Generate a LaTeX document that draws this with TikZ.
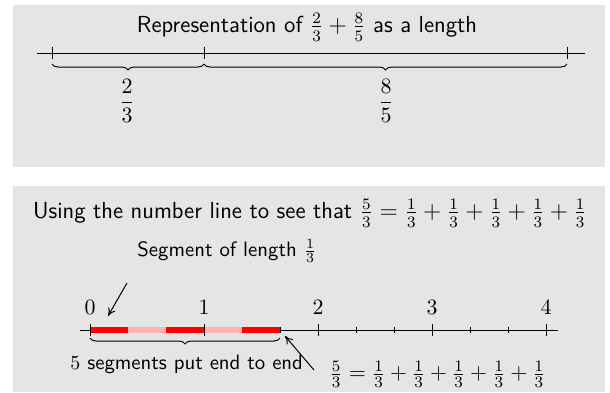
\documentclass[tikz,border=0pt]{standalone}
\usetikzlibrary{decorations.pathreplacing,arrows.meta}
\begin{document}
\begin{tikzpicture}[x=0.5pt,y=-0.5pt,font=\fontsize{11.3}{13.5}\selectfont\sffamily,
  panel/.style={fill=gray!20,draw=none},
  titletext/.style={font=\fontsize{11.6}{14}\selectfont\sffamily},
  labeltext/.style={font=\fontsize{10.4}{12.5}\selectfont\sffamily},
  eqtext/.style={font=\fontsize{11.1}{13}\selectfont},
  axisline/.style={line width=0.5pt},
  bigtick/.style={line width=0.5pt},
  smalltick/.style={line width=0.5pt},
  bracestyle/.style={decorate,decoration={brace,mirror,amplitude=3pt},line width=0.5pt},
  redseg/.style={red,line width=2.6pt},
  pinkseg/.style={red!30,line width=2.6pt},
  pointer/.style={-{To[length=4pt,width=4pt]},line width=0.5pt}]
\useasboundingbox (0,0) rectangle (610,392);
\fill[panel] (13,5) rectangle (605,167);
\fill[panel] (13,186) rectangle (605,392);

% ---------- top panel ----------
\node[titletext] (t1) at (307,27) {Representation of $\frac{2}{3}+\frac{8}{5}$ as a length};
\coordinate (L1) at (37,53);
\coordinate (R1) at (585,53);
\coordinate (a0) at (52,53);
\coordinate (a1) at (204,53);
\coordinate (a2) at (567,53);
\draw[axisline] (L1) -- (R1);
\foreach \p in {a0,a1,a2} \draw[bigtick] (\p) ++(0,-6) -- ++(0,12);
\coordinate (b0) at (52,64);
\coordinate (b1) at (204,64);
\coordinate (b2) at (567,64);
\draw[bracestyle] (b0) -- (b1);
\draw[bracestyle] (b1) -- (b2);
\node (f1) at (127,101) {$\displaystyle\frac{2}{3}$};
\node (f2) at (386,101) {$\displaystyle\frac{8}{5}$};

% ---------- bottom panel ----------
\node[titletext] (t2) at (310,213) {Using the number line to see that $\frac{5}{3}=\frac{1}{3}+\frac{1}{3}+\frac{1}{3}+\frac{1}{3}+\frac{1}{3}$};
\node[labeltext,anchor=west,inner sep=0pt] (seg) at (137,251) {Segment of length $\frac{1}{3}$};
\coordinate (L2) at (80,330);
\coordinate (R2) at (558,330);
\draw[axisline] (L2) -- (R2);
\foreach \k in {0,...,12} {
  \coordinate (m\k) at ({90+38*\k},330);
}
\foreach \k in {1,2,4,5,7,8,10,11} \draw[smalltick] (m\k) ++(0,-3) -- ++(0,6);
\draw[redseg] (m0) -- (m1);
\draw[pinkseg] (m1) -- (m2);
\draw[redseg] (m2) -- (m3);
\draw[pinkseg] (m3) -- (m4);
\draw[redseg] (m4) -- (m5);
\foreach \k/\n in {0/0,3/1,6/2,9/3,12/4} {
  \draw[bigtick] (m\k) ++(0,-6) -- ++(0,12);
  \node (n\n) at ([yshift=11.5pt]m\k) {$\n$};
}
\coordinate (c0) at (90,338);
\coordinate (c1) at (280,338);
\draw[bracestyle] (c0) -- (c1);
\node[labeltext,anchor=west,inner sep=0pt] (five) at (70,364) {$5$ segments put end to end};
\node[eqtext,anchor=west,inner sep=0pt] (eq) at (329,374) {$\frac{5}{3}=\frac{1}{3}+\frac{1}{3}+\frac{1}{3}+\frac{1}{3}+\frac{1}{3}$};
\coordinate (p1s) at (127,283);
\coordinate (p1e) at (108,316);
\draw[pointer] (p1s) -- (p1e);
\coordinate (p2s) at (314,370);
\coordinate (p2e) at (285,336);
\draw[pointer] (p2s) -- (p2e);
\end{tikzpicture}
\end{document}
